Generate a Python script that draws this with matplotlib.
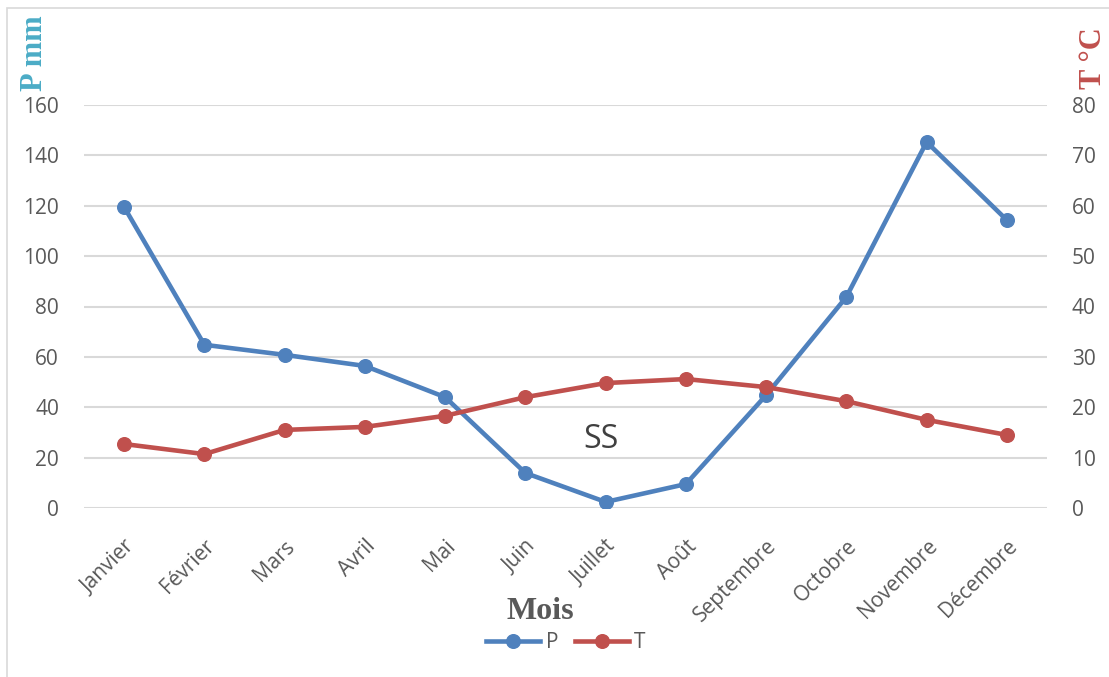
import matplotlib.pyplot as plt
from matplotlib.patches import Rectangle
from matplotlib.lines import Line2D

# data
mois = ["Janvier", "Février", "Mars", "Avril", "Mai", "Juin",
        "Juillet", "Août", "Septembre", "Octobre", "Novembre", "Décembre"]
precip = [119.5, 64.8, 60.8, 56.4, 44.0, 13.9, 2.4, 9.5, 44.8, 83.8, 145.3, 114.3]
temp = [12.7, 10.7, 15.5, 16.1, 18.3, 22.0, 24.8, 25.6, 24.0, 21.2, 17.5, 14.5]

p_ticks = [0, 20, 40, 60, 80, 100, 120, 140, 160]
t_ticks = [0, 10, 20, 30, 40, 50, 60, 70, 80]

blue = "#4F81BD"
red = "#C0504D"
grey = "#595959"
W, H = 1109, 677

plt.rcParams["font.family"] = ["Open Sans", "DejaVu Sans"]

fig = plt.figure(figsize=(W / 100, H / 100), dpi=100)
# chart area border (only left/top edges fall inside the image)
fig.patches.append(Rectangle((7 / W, -0.05), 1.1, 1 - 8 / H + 0.05,
                             transform=fig.transFigure, fill=False,
                             edgecolor="#D9D9D9", linewidth=1.2))

ax = fig.add_axes([84 / W, 1 - 508 / H, (1047 - 84) / W, (508 - 105) / H])
ax2 = ax.twinx()

x = list(range(len(mois)))

ax.plot(x, precip, color=blue, lw=3.3, marker="o", ms=9.8, zorder=3,
        solid_capstyle="round")
ax2.plot(x, temp, color=red, lw=3.3, marker="o", ms=9.8, zorder=3,
         solid_capstyle="round")

ax.set_xlim(-0.5, len(mois) - 0.5)
ax.set_ylim(0, 160)
ax2.set_ylim(0, 80)
ax.set_yticks(p_ticks)
ax2.set_yticks(t_ticks)
ax.yaxis.grid(True, color="#D9D9D9", lw=1.5)
ax.set_axisbelow(True)

for a in (ax, ax2):
    for s in a.spines.values():
        s.set_visible(False)
    a.tick_params(length=0, labelsize=15, labelcolor=grey)
ax.tick_params(axis="y", pad=18)
ax2.tick_params(axis="y", pad=18)

ax.set_xticks(x)
ax.set_xticklabels(mois, rotation=45, ha="right", rotation_mode="anchor")
ax.tick_params(axis="x", pad=20)

ax.text(5.94, 27, "SS", fontsize=23, color="#404040", ha="center", va="center")

fig.text(540 / W, 1 - 619 / H, "Mois", fontsize=23, fontweight="bold",
         family="Liberation Serif", color=grey, ha="center", va="baseline")
fig.text(42 / W, 1 - 53.5 / H, "P mm", fontsize=22, fontweight="bold",
         family="Liberation Serif", color="#4BACC6", rotation=90,
         rotation_mode="anchor", ha="center", va="baseline")
fig.text(1101 / W, 1 - 58.5 / H, "T °C", fontsize=22, fontweight="bold",
         family="Liberation Serif", color=red, rotation=90,
         rotation_mode="anchor", ha="center", va="baseline")

handles = [Line2D([], [], color=blue, lw=3.3, marker="o", ms=9.8),
           Line2D([], [], color=red, lw=3.3, marker="o", ms=9.8)]
fig.legend(handles, ["P", "T"], loc="center", bbox_to_anchor=(566 / W, 1 - 643 / H),
           ncol=2, frameon=False, fontsize=15, labelcolor=grey,
           handlelength=2.6, handletextpad=0.25, columnspacing=0.8,
           borderpad=0, borderaxespad=0)

fig.savefig("out.png", dpi=100)
